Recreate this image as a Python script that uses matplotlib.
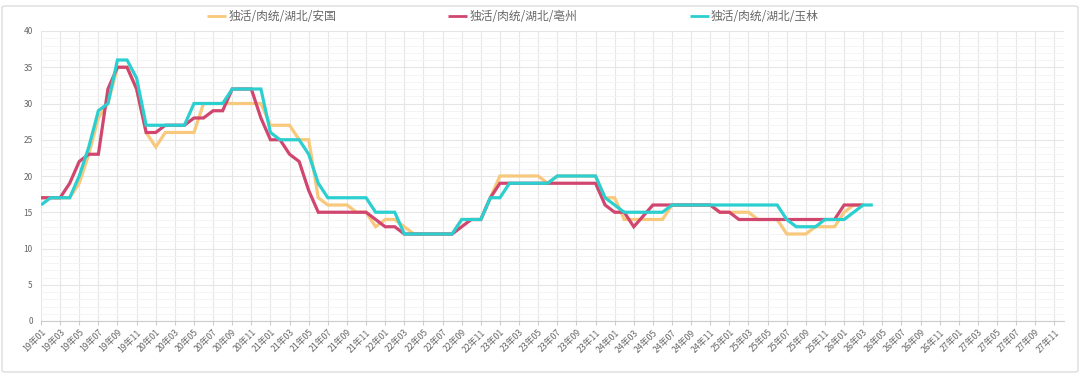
import matplotlib
matplotlib.use('Agg')
import matplotlib.pyplot as plt
import numpy as np
from matplotlib.patches import FancyBboxPatch

plt.rcParams['font.family'] = ['Noto Sans CJK SC', 'DejaVu Sans']

# months 19年01 .. 27年12
months = ['%d年%02d' % (y, m) for y in range(19, 28) for m in range(1, 13)]

anguo = [17, 17, 17, 17, 19, 23, 28, 30, 35, 35, 32, 26, 24, 26, 26, 26, 26, 30, 30, 30,
         30, 30, 30, 30, 27, 27, 27, 25, 25, 17, 16, 16, 16, 15, 15, 13, 14, 14, 13, 12,
         12, 12, 12, 12, 14, 14, 14, 17, 20, 20, 20, 20, 20, 19, 20, 20, 20, 20, 20, 17,
         17, 14, 14, 14, 14, 14, 16, 16, 16, 16, 16, 15, 15, 15, 15, 14, 14, 14, 12, 12,
         12, 13, 13, 13, 15, 16, 16]
bozhou = [17, 17, 17, 19, 22, 23, 23, 32, 35, 35, 32, 26, 26, 27, 27, 27, 28, 28, 29, 29,
          32, 32, 32, 28, 25, 25, 23, 22, 18, 15, 15, 15, 15, 15, 15, 14, 13, 13, 12, 12,
          12, 12, 12, 12, 13, 14, 14, 17, 19, 19, 19, 19, 19, 19, 19, 19, 19, 19, 19, 16,
          15, 15, 13, 14.5, 16, 16, 16, 16, 16, 16, 16, 15, 15, 14, 14, 14, 14, 14, 14, 14,
          14, 14, 14, 14, 16, 16, 16]
yulin = [16, 17, 17, 17, 20, 24, 29, 30, 36, 36, 33.5, 27, 27, 27, 27, 27, 30, 30, 30, 30,
         32, 32, 32, 32, 26, 25, 25, 25, 23, 19, 17, 17, 17, 17, 17, 15, 15, 15, 12, 12,
         12, 12, 12, 12, 14, 14, 14, 17, 17, 19, 19, 19, 19, 19, 20, 20, 20, 20, 20, 17,
         16, 15, 15, 15, 15, 15, 16, 16, 16, 16, 16, 16, 16, 16, 16, 16, 16, 16, 14, 13,
         13, 13, 14, 14, 14, 15, 16, 16]

series = [
    ('独活/肉统/湖北/安国', anguo, '#f8c87c'),
    ('独活/肉统/湖北/亳州', bozhou, '#d1466f'),
    ('独活/肉统/湖北/玉林', yulin, '#2ccfd0'),
]

fig = plt.figure(figsize=(10.8, 3.74), dpi=100)
ax = fig.add_axes([41 / 1080, 1 - 321 / 374, 1023 / 1080, 290 / 374])

for name, vals, color in series:
    ax.plot(np.arange(len(vals)), vals, color=color, lw=2.3, label=name,
            solid_joinstyle='miter', solid_capstyle='butt')

ax.set_xlim(0, len(months) - 1)
ax.set_ylim(0, 40)
ax.set_yticks(np.arange(0, 41, 5))
ax.set_yticks(np.arange(0, 41, 1), minor=True)
ax.set_xticks(np.arange(0, len(months), 2))
ax.set_xticklabels(months[::2], rotation=45, ha='right', rotation_mode='anchor')

ax.tick_params(axis='x', labelsize=6.3, colors='#666666', length=3, color='#cccccc', pad=2)
ax.tick_params(axis='y', labelsize=6, colors='#666666', length=0, pad=6)
ax.tick_params(axis='y', which='minor', length=0)

ax.grid(True, axis='y', which='major', color='#e6e6e6', lw=0.8)
ax.grid(True, axis='y', which='minor', color='#f4f4f4', lw=0.7)
ax.grid(True, axis='x', which='major', color='#e6e6e6', lw=0.8)
ax.set_axisbelow(True)

for side in ['top', 'right', 'left']:
    ax.spines[side].set_visible(False)
ax.spines['bottom'].set_color('#cccccc')
ax.spines['bottom'].set_linewidth(0.8)

leg = fig.legend(loc='center', bbox_to_anchor=(513 / 1080, 1 - 17 / 374), ncol=3,
                 frameon=False, fontsize=8.5, handlelength=1.6, handletextpad=0.2,
                 columnspacing=9.5)
for t in leg.get_texts():
    t.set_color('#666666')
for h in leg.get_lines():
    h.set_linewidth(2)

border = FancyBboxPatch((2 / 1080, 2 / 374), 1076 / 1080, 366 / 374,
                        boxstyle='round,pad=0,rounding_size=0.004',
                        transform=fig.transFigure, fill=False,
                        edgecolor='#dddddd', lw=1)
fig.patches.append(border)

fig.savefig('out.png', dpi=100)
